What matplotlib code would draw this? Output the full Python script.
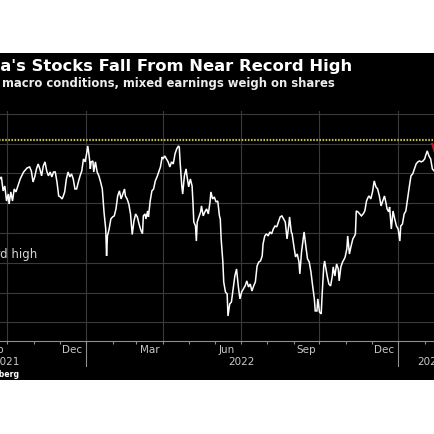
import matplotlib
matplotlib.use("Agg")
import matplotlib.pyplot as plt
import matplotlib.dates as mdates
import matplotlib.transforms as mtransforms
from matplotlib.lines import Line2D
from matplotlib.patches import Rectangle
import pandas as pd
import numpy as np

# ---------------- data (S&P/ASX 200) ----------------
# days relative to 2022-01-01
days = [-104, -101, -99, -97, -95, -93, -91, -90, -88, -86, -84, -82, -80, -77, -73, -69, -66,
        -64, -62, -60, -58, -56, -54, -52, -50, -48, -46, -44, -42, -40, -38, -36, -34, -32,
        -30, -28, -27, -25, -23, -21, -19, -17, -15, -13, -11, -9, -7, -5, -3, -1,
        1, 2, 3, 4, 5, 6, 8, 9, 11, 13, 15, 17, 19, 21, 23, 24, 25, 27, 29, 31, 33, 35, 37,
        39, 41, 43, 45, 46, 48, 50, 52, 54, 56, 58, 60, 62, 64, 66, 67, 69, 70, 72, 73, 75,
        77, 79, 81, 83, 85, 87, 89, 90, 92, 94, 96, 98, 100, 102, 104, 106, 108, 109, 110,
        112, 113, 115, 117, 118, 120, 122, 124, 125, 126, 128, 129, 130, 132, 134, 135, 137,
        139, 141, 143, 145, 146, 148, 150, 152, 154, 156, 157, 158, 160, 161, 163, 165, 166,
        168, 170, 172, 174, 176, 178, 180, 182, 184, 186, 188, 190, 192, 194, 196, 198, 200,
        202, 204, 206, 207, 209, 211, 213, 215, 217, 219, 221, 223, 225, 227, 229, 231, 233,
        235, 237, 238, 240, 241, 243, 245, 247, 249, 250, 252, 254, 255, 257, 259, 261, 263,
        265, 267, 268, 270, 271, 273, 275, 276, 278, 279, 280, 282, 284, 286, 288, 289, 291,
        293, 295, 296, 298, 300, 302, 303, 305, 306, 308, 310, 312, 314, 315, 316, 318, 320,
        322, 324, 326, 328, 330, 331, 333, 335, 337, 339, 341, 343, 345, 347, 349, 351, 352,
        354, 355, 357, 359, 361, 363, 365, 367, 368, 370, 372, 374, 376, 378, 380, 382, 384,
        386, 388, 390, 392, 394, 396, 397, 399, 401, 403, 405, 407, 410]
values = [7340, 7363, 7377, 7283, 7316, 7215, 7262, 7195, 7276, 7215, 7296, 7276, 7310, 7363, 7410, 7437, 7444,
          7417, 7343, 7377, 7431, 7464, 7431, 7384, 7451, 7478, 7417, 7384, 7410, 7377, 7410, 7410, 7343, 7249,
          7242, 7229, 7242, 7276, 7363, 7410, 7377, 7397, 7363, 7296, 7296, 7343, 7384, 7417, 7498, 7478,
          7545, 7585, 7545, 7498, 7431, 7478, 7484, 7410, 7478, 7410, 7384, 7343, 7296, 7142, 7027, 6846, 6980, 7027, 7094, 7108, 7115, 7162, 7249,
          7283, 7229, 7262, 7296, 7249, 7229, 7195, 7128, 6990, 7080, 7128, 7108, 7060, 7020, 6995, 7115, 7128, 7094, 7148, 7108, 7215,
          7283, 7296, 7350, 7377, 7410, 7444, 7511, 7498, 7518, 7498, 7478, 7444, 7478, 7464, 7531, 7565, 7585, 7578, 7478,
          7316, 7262, 7384, 7431, 7384, 7310, 7363, 7316, 7209, 7074, 7047, 6946, 7074, 7108, 7142, 7182, 7115,
          7142, 7162, 7128, 7209, 7276, 7229, 7242, 7209, 7215, 7115, 7094, 6960, 6805, 6671, 6604, 6590, 6442,
          6523, 6536, 6624, 6711, 6758, 6644, 6557, 6604, 6624, 6644, 6678, 6637, 6657, 6610, 6644, 6671, 6778,
          6805, 6812, 6846, 6926, 6980, 6994, 6980, 7007, 6994, 7027, 7047, 7041, 7074, 7108, 7115, 7094, 7074,
          6960, 7047, 7108, 7007, 6994, 6913, 6839, 6859, 6805, 6725, 6873, 6960, 7007, 6913, 6826, 6805, 6738,
          6644, 6557, 6476, 6476, 6557, 6469, 6456, 6577, 6778, 6812, 6778, 6711, 6657, 6644, 6711, 6772, 6711,
          6792, 6758, 6678, 6772, 6805, 6826, 6839, 6893, 6980, 6859, 6913, 6960, 6980, 6994, 7148, 7142, 7128,
          7115, 7128, 7148, 7215, 7242, 7249, 7229, 7276, 7350, 7310, 7296, 7249, 7182, 7215, 7249, 7195, 7162,
          7142, 7175, 7027, 7148, 7094, 7047, 7027, 6946, 7047, 7060, 7128, 7148, 7229, 7310, 7384, 7397, 7431,
          7464, 7478, 7484, 7478, 7484, 7498, 7518, 7552, 7518, 7498, 7431, 7417, 7410]
record_high = 7628

month_label_dates = ["2021-09-15", "2021-12-16", "2022-03-16", "2022-06-15", "2022-09-15", "2022-12-16"]
month_labels = ["Sep", "Dec", "Mar", "Jun", "Sep", "Dec"]
quarter_starts = ["2021-07-01", "2021-10-01", "2022-01-01", "2022-04-01", "2022-07-01", "2022-10-01", "2023-01-01"]
year_starts = ["2022-01-01", "2023-01-01"]
year_label_dates = ["2021-09-30", "2022-07-02", "2023-02-08"]
year_labels = ["2021", "2022", "2023"]
y_gridvals = [6400, 6600, 6800, 7000, 7200, 7400, 7600, 7800]

title = "Australia's Stocks Fall From Near Record High"
subtitle = "Weak macro conditions, mixed earnings weigh on shares"
legend_label = "Record high"
source = "Source: Bloomberg"

# ---------------- figure ----------------
W = H = 435.0
fig = plt.figure(figsize=(4.35, 4.35), dpi=100, facecolor="white")
fig.patches.append(Rectangle((0, 54 / H), 1, 327 / H, transform=fig.transFigure,
                             facecolor="black", edgecolor="none", zorder=-5))

ax = fig.add_axes([-73 / W, 93 / H, 537 / W, 230 / H])
ax.set_facecolor("black")
ax.set_zorder(1)

dates = pd.Timestamp("2022-01-01") + pd.to_timedelta(days, unit="D")

grid_c = "#3a3a3a"
axis_c = "#8f8f8f"
text_c = "#c8c8c8"

for q in pd.to_datetime(quarter_starts):
    ax.axvline(q, color=grid_c, lw=0.8, zorder=1)
ax.set_yticks(y_gridvals)
ax.grid(axis="y", color=grid_c, lw=0.8, zorder=1)
ax.tick_params(axis="y", length=0, labelleft=False, labelright=False)

ax.axhline(record_high, color="#c6bf58", lw=1.6, ls=(0, (0.7, 0.7)), zorder=2)
ax.plot(dates, values, color="white", lw=1.1, zorder=3, solid_joinstyle="miter")

ax.set_xlim(pd.Timestamp("2021-06-29"), pd.Timestamp("2023-03-19"))
ax.set_ylim(6274, 7820)

for s in ["top", "left", "right"]:
    ax.spines[s].set_visible(False)
ax.spines["bottom"].set_color(axis_c)
ax.spines["bottom"].set_linewidth(0.8)

ax.set_xticks(pd.to_datetime(month_label_dates))
ax.set_xticklabels(month_labels)
ax.xaxis.set_minor_locator(mdates.MonthLocator())
ax.tick_params(axis="x", which="major", length=0, pad=2.5, labelsize=7.5, labelcolor=text_c)
ax.tick_params(axis="x", which="minor", length=2.5, width=0.8, color=axis_c, direction="out")

for ys in pd.to_datetime(year_starts):
    ax.axvline(ys, ymin=-25 / 230, ymax=0, clip_on=False, color=axis_c, lw=0.8)
for d, lab in zip(pd.to_datetime(year_label_dates), year_labels):
    ax.text(d, -20 / 230, lab, transform=ax.get_xaxis_transform(), ha="center", va="center",
            fontsize=7.5, color=text_c)

# red marker near recent peak
dates_arr = np.array(dates)
vals_arr = np.array(values)
mask = dates_arr >= np.datetime64("2023-01-01")
ipk = np.argmax(np.where(mask, vals_arr, -1))
p = ax.transData.transform((mdates.date2num(dates[ipk]), values[ipk]))
fig.add_artist(Line2D([p[0] + 5, p[0] + 8], [p[1] + 7, p[1] - 3], color="#c8102e", lw=1.5,
                      transform=mtransforms.IdentityTransform(), zorder=5))

# ---------------- texts ----------------
fig.text(352 / W, 1 - 67 / H, title, ha="right", va="center", color="white",
         fontweight="bold", fontsize=11.75)
fig.text(335 / W, 1 - 83.5 / H, subtitle, ha="right", va="center", color="#ececec",
         fontweight="bold", fontsize=8.42)
fig.text(37 / W, 1 - 255 / H, legend_label, ha="right", va="center", color="#d8d8d8",
         fontsize=8.5)
fig.text(19 / W, 1 - 374.5 / H, source, ha="right", va="center", color="white",
         fontweight="bold", fontsize=5.6)

fig.savefig("out.png", dpi=100, facecolor="white")
